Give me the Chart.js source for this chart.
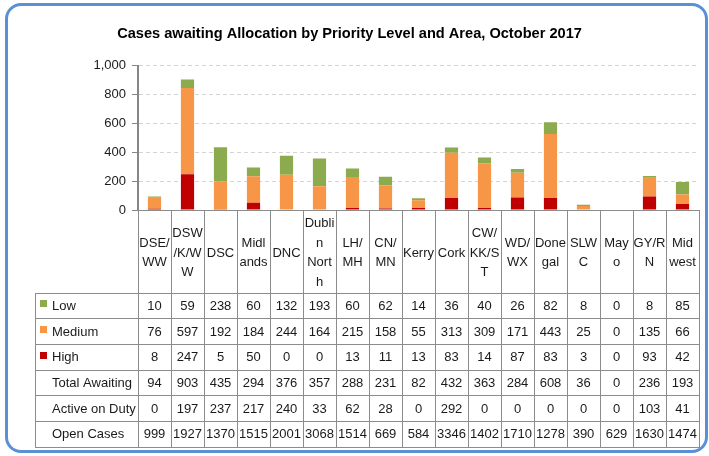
<!DOCTYPE html>
<html>
<head>
<meta charset="utf-8">
<script src="https://cdn.jsdelivr.net/npm/chart.js@4"></script>
<style>
  html, body { margin: 0; padding: 0; background: #fff; overflow: hidden; }
  #wrap { position: absolute; left: 0; top: 0; width: 727px; height: 456px; }
  #frame { position: absolute; left: 5px; top: 3px; width: 703px; height: 450px;
    box-sizing: border-box; border: 3px solid #5b8fd6; border-radius: 16px; pointer-events: none; }
</style>
</head>
<body>
<div id="wrap"><canvas id="chart" width="727" height="456"></canvas></div>
<div id="frame"></div>
<script>
const areas = ["DSE/WW", "DSW/K/WW", "DSC", "Midlands", "DNC", "Dublin North", "LH/MH", "CN/MN", "Kerry", "Cork",
  "CW/KK/ST", "WD/WX", "Donegal", "SLWC", "Mayo", "GY/RN", "Midwest"];
// how Excel wrapped each header in the table
const headerLines = [["DSE/", "WW"], ["DSW", "/K/W", "W"], ["DSC"], ["Midl", "ands"], ["DNC"], ["Dubli", "n", "Nort", "h"],
  ["LH/", "MH"], ["CN/", "MN"], ["Kerry"], ["Cork"], ["CW/", "KK/S", "T"], ["WD/", "WX"], ["Done", "gal"], ["SLW", "C"],
  ["May", "o"], ["GY/R", "N"], ["Mid", "west"]];

const low = [10, 59, 238, 60, 132, 193, 60, 62, 14, 36, 40, 26, 82, 8, 0, 8, 85];
const medium = [76, 597, 192, 184, 244, 164, 215, 158, 55, 313, 309, 171, 443, 25, 0, 135, 66];
const high = [8, 247, 5, 50, 0, 0, 13, 11, 13, 83, 14, 87, 83, 3, 0, 93, 42];
const totalAwaiting = [94, 903, 435, 294, 376, 357, 288, 231, 82, 432, 363, 284, 608, 36, 0, 236, 193];
const activeOnDuty = [0, 197, 237, 217, 240, 33, 62, 28, 0, 292, 0, 0, 0, 0, 0, 103, 41];
const openCases = [999, 1927, 1370, 1515, 2001, 3068, 1514, 669, 584, 3346, 1402, 1710, 1278, 390, 629, 1630, 1474];

const yTicks = [0, 200, 400, 600, 800, 1000];

const colLow = "#8caa4e";
const colMed = "#f79646";
const colHigh = "#c00000";

const FONT = "'Liberation Sans', Arial, sans-serif";

const tableRows = [
  { label: "Low", values: low, key: colLow },
  { label: "Medium", values: medium, key: colMed },
  { label: "High", values: high, key: colHigh },
  { label: "Total Awaiting", values: totalAwaiting },
  { label: "Active on Duty", values: activeOnDuty },
  { label: "Open Cases", values: openCases }
];

// data table under the plot, columns follow the x scale
const dataTable = {
  id: "dataTable",
  afterDraw(chart) {
    const ctx = chart.ctx;
    const x = chart.scales.x;
    const area = chart.chartArea;
    const n = areas.length;
    const step = x.getPixelForTick(1) - x.getPixelForTick(0);
    const left = x.getPixelForTick(0) - step / 2;
    const right = left + step * n;
    const top = area.bottom;
    const headBottom = top + 82.5;
    const rowH = 25.7;
    const tableLeft = 35;
    const bottom = headBottom + rowH * tableRows.length;

    ctx.save();
    ctx.strokeStyle = "#8c8c8c";
    ctx.lineWidth = 1;
    ctx.beginPath();
    // horizontals
    ctx.moveTo(left, top + 0.5); ctx.lineTo(right, top + 0.5);
    for (let r = 0; r <= tableRows.length; r++) {
      const yy = Math.round(headBottom + r * rowH) + 0.5;
      ctx.moveTo(tableLeft, yy); ctx.lineTo(right, yy);
    }
    // verticals
    ctx.moveTo(tableLeft + 0.5, Math.round(headBottom)); ctx.lineTo(tableLeft + 0.5, Math.round(bottom) + 1);
    for (let i = 0; i <= n; i++) {
      const xx = Math.round(left + i * step) + 0.5;
      ctx.moveTo(xx, top); ctx.lineTo(xx, Math.round(bottom) + 1);
    }
    ctx.stroke();

    ctx.fillStyle = "#1a1a1a";
    ctx.font = "13px " + FONT;
    ctx.textAlign = "center";
    ctx.textBaseline = "middle";
    const lh = 19.5;
    const headMid = top + 43;
    headerLines.forEach((lines, i) => {
      const cx = x.getPixelForTick(i);
      const y0 = headMid - (lines.length - 1) * lh / 2;
      lines.forEach((s, j) => ctx.fillText(s, cx, y0 + j * lh));
    });

    tableRows.forEach((row, r) => {
      const cy = headBottom + r * rowH + rowH / 2 + 1;
      row.values.forEach((v, i) => {
        ctx.textAlign = "center";
        ctx.fillText(String(v), x.getPixelForTick(i), cy);
      });
      if (row.key) {
        ctx.fillStyle = row.key;
        ctx.fillRect(40, Math.round(cy - 6), 7, 7);
        ctx.fillStyle = "#1a1a1a";
      }
      ctx.textAlign = "left";
      ctx.fillText(row.label, 52, cy);
    });
    ctx.restore();
  }
};

new Chart(document.getElementById("chart"), {
  type: "bar",
  data: {
    labels: areas,
    datasets: [
      { label: "High", data: high, backgroundColor: colHigh },
      { label: "Medium", data: medium, backgroundColor: colMed },
      { label: "Low", data: low, backgroundColor: colLow }
    ]
  },
  options: {
    responsive: false,
    animation: false,
    layout: { padding: { left: 0, right: 28, top: 0, bottom: 0 } },
    datasets: { bar: { barPercentage: 0.4, categoryPercentage: 1 } },
    plugins: {
      legend: { display: false },
      tooltip: { enabled: false },
      title: {
        display: true,
        text: "Cases awaiting Allocation by Priority Level and Area, October 2017",
        color: "#000",
        font: { family: FONT, size: 14.6, weight: "bold" },
        padding: { top: 25, bottom: 23 }
      }
    },
    scales: {
      x: {
        stacked: true,
        ticks: { display: false },
        grid: { display: false },
        border: { display: false },
        afterFit(s) { s.height = 246; }
      },
      y: {
        stacked: true,
        min: yTicks[0],
        max: yTicks[yTicks.length - 1],
        ticks: { stepSize: 200, color: "#1a1a1a", font: { family: FONT, size: 13 }, padding: 6 },
        grid: { color: "#d4d4d4", tickColor: "#868686", tickLength: 6, tickBorderDash: [] },
        border: { color: "#868686", width: 2, dash: [4, 3] },
        afterFit(s) { s.width = 138; }
      }
    }
  },
  plugins: [dataTable]
});
</script>
</body>
</html>
